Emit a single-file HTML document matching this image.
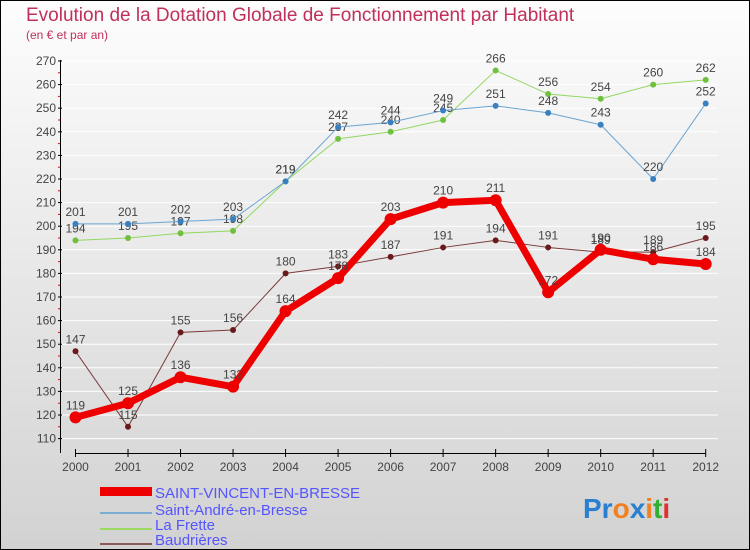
<!DOCTYPE html>
<html><head><meta charset="utf-8"><style>
body{margin:0}
svg{display:block;font-family:"Liberation Sans",sans-serif}
</style></head><body>
<svg width="750" height="550" viewBox="0 0 750 550">
<defs><linearGradient id="bg" x1="0" y1="0" x2="0" y2="1"><stop offset="0" stop-color="#fdfdfd"/><stop offset="1" stop-color="#d2d2d2"/></linearGradient></defs>
<rect x="0.5" y="0.5" width="749" height="549" fill="url(#bg)" stroke="#000"/>
<text x="26" y="21" font-size="19" fill="#c0305a">Evolution de la Dotation Globale de Fonctionnement par Habitant</text>
<text x="26" y="39" font-size="12" fill="#c0305a">(en € et par an)</text>
<g id="grid"></g><g id="axes"></g><g id="series"></g>
<g>
<rect x="100" y="487" width="52" height="9" fill="#e00"/>
<text x="155" y="498" font-size="15" fill="#55f">SAINT-VINCENT-EN-BRESSE</text>
<rect x="100" y="512" width="52" height="2" fill="#7aaed0"/>
<text x="155" y="515" font-size="15" fill="#55f">Saint-André-en-Bresse</text>
<rect x="100" y="528" width="52" height="2" fill="#9ad860"/>
<text x="155" y="530" font-size="15" fill="#55f">La Frette</text>
<rect x="100" y="543" width="52" height="2" fill="#8a5a5a"/>
<text x="155" y="545" font-size="15" fill="#55f">Baudrières</text>
</g>
<text x="583" y="518" font-size="28" font-weight="bold"><tspan fill="#2a7fd0">Pr</tspan><tspan fill="#f08020">o</tspan><tspan fill="#2a7fd0">x</tspan><tspan fill="#f08020">i</tspan><tspan fill="#30b030">t</tspan><tspan fill="#e03030">i</tspan></text>
</svg>
<script>
const years=[2000,2001,2002,2003,2004,2005,2006,2007,2008,2009,2010,2011,2012];
const yTicks=[110,120,130,140,150,160,170,180,190,200,210,220,230,240,250,260,270];
const saintVincent=[119,125,136,132,164,178,203,210,211,172,190,186,184];
const saintAndre=[201,201,202,203,219,242,244,249,251,248,243,220,252];
const laFrette=[194,195,197,198,219,237,240,245,266,256,254,260,262];
const baudrieres=[147,115,155,156,180,183,187,191,194,191,189,189,195];
const NS="http://www.w3.org/2000/svg";
const X=i=>75.5+i*(705.7-75.5)/(years.length-1);
const Y=v=>61+(270-v)*(438.6-61)/160;
function mk(t,a,p){const e=document.createElementNS(NS,t);for(const k in a)e.setAttribute(k,a[k]);p.appendChild(e);return e;}
const grid=document.getElementById('grid'),axes=document.getElementById('axes'),ser=document.getElementById('series');
const yMax=yTicks[yTicks.length-1];
yTicks.forEach(v=>{
 const g=mk('line',{x1:61,x2:718,y1:Y(v),y2:Y(v),stroke:'#fff','stroke-width':1},grid);
 
 
 mk('line',{x1:58,x2:62,y1:Y(v),y2:Y(v),stroke:'#000'},axes);
 if(v<yMax) mk('line',{x1:58,x2:61,y1:Y(v+5),y2:Y(v+5),stroke:'#e00'},axes);
 const t=mk('text',{x:56,y:Y(v)+4,'font-size':12,fill:'#444','text-anchor':'end'},axes);t.textContent=v;
 
 
});
mk('line',{x1:60.5,x2:60.5,y1:60,y2:453,stroke:'#000'},axes);
mk('line',{x1:75.5,x2:705.7,y1:453.5,y2:453.5,stroke:'#000'},axes);
years.forEach((yr,i)=>{
 mk('line',{x1:X(i),x2:X(i),y1:449,y2:457,stroke:'#000'},axes);
 const t=mk('text',{x:X(i),y:471,'font-size':12,fill:'#444','text-anchor':'middle'},axes);t.textContent=yr;
 
 
});
function draw(d,name,col,dot,w,r){
 const g=mk('g',{},ser);
 
 
 mk('polyline',{points:d.map((v,i)=>X(i)+','+Y(v)).join(' '),fill:'none',stroke:col,'stroke-width':w,'stroke-linejoin':'round'},g);
 d.forEach((v,i)=>{
  const c=mk('circle',{cx:X(i),cy:Y(v),r:r,fill:dot},g);
  
  
  const t=mk('text',{x:X(i),y:Y(v)-8,'font-size':12,fill:'#444','text-anchor':'middle'},g);t.textContent=v;
  
  
 });
}
draw(baudrieres,'baudrieres','#7a3a3a','#6a1a1a',1,3);
draw(laFrette,'la-frette','#90d860','#70c040',1,3);
draw(saintAndre,'saint-andre','#6aa4d0','#3a80c0',1,3);
draw(saintVincent,'saint-vincent','#ee0000','#ee0000',7,6);
</script>
</body></html>
